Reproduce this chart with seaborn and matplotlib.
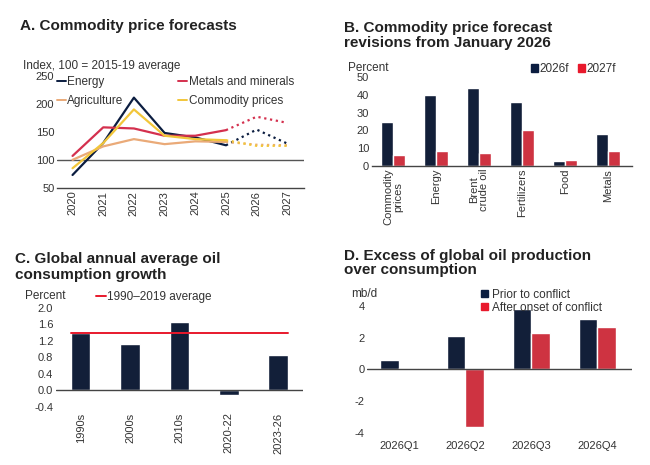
import pandas as pd
import matplotlib
matplotlib.use("Agg")
import matplotlib.pyplot as plt
from matplotlib.lines import Line2D
from matplotlib.patches import Patch
import seaborn as sns

# Panel A: commodity price indices (100 = 2015-19 average)
years = [2020, 2021, 2022, 2023, 2024, 2025, 2026, 2027]
energy = [73, 130, 211, 148, 140, 126, 154, 129]
metals = [107, 158, 156, 143, 143, 153, 177, 166]
agriculture = [100, 124, 137, 128, 133, 132, 127, 126]
commodity = [85, 130, 190, 143, 137, 135, 125, 125]

# Panel B: forecast revisions, percent
b_categories = ["Commodity\nprices", "Energy", "Brent\ncrude oil", "Fertilizers", "Food", "Metals"]
rev_2026 = [25, 40, 44, 36, 3, 18]
rev_2027 = [6, 8.5, 7.5, 20, 3.5, 8.5]

# Panel C: oil consumption growth, percent
c_periods = ["1990s", "2000s", "2010s", "2020-22", "2023-26"]
c_growth = [1.4, 1.12, 1.65, -0.12, 0.85]
c_average = 1.4

# Panel D: excess production, mb/d
d_quarters = ["2026Q1", "2026Q2", "2026Q3", "2026Q4"]
prior = [0.6, 2.1, 3.8, 3.2]
after = [0.1, -3.6, 2.3, 2.7]

NAVY = "#0b1d40"
RED = "#e8192c"
METAL = "#d4304e"
AGRI = "#eaaa78"
COMM = "#f2c63a"
TXT = "#333333"
TITLE = "#222222"

sns.set_style("white")
plt.rcParams["font.family"] = ["Liberation Sans", "DejaVu Sans"]
plt.rcParams["font.size"] = 8
plt.rcParams["xtick.color"] = TXT
plt.rcParams["ytick.color"] = TXT
plt.rcParams["axes.unicode_minus"] = False

fig = plt.figure(figsize=(6.5, 4.65), dpi=100)


def style_axis(ax):
    for side in ["top", "right", "left"]:
        ax.spines[side].set_visible(False)
    ax.spines["bottom"].set_color("#444444")
    ax.spines["bottom"].set_linewidth(1.0)
    ax.tick_params(axis="both", length=0, labelsize=8, pad=2)
    ax.set_xlabel("")
    ax.set_ylabel("")


# ---- A. Commodity price forecasts
axA = fig.add_axes([0.088, 0.596, 0.380, 0.241])
series = {"Energy": energy, "Metals and minerals": metals,
          "Agriculture": agriculture, "Commodity prices": commodity}
colors = {"Energy": NAVY, "Metals and minerals": METAL,
          "Agriculture": AGRI, "Commodity prices": COMM}
rows = []
for name, vals in series.items():
    for y, v in zip(years, vals):
        rows.append({"year": y, "value": v, "series": name})
dfA = pd.DataFrame(rows)
hist = dfA[dfA["year"] <= 2025]
fcst = dfA[dfA["year"] >= 2025]
axA.axhline(100, color="#555555", linewidth=1.0, zorder=1)
sns.lineplot(data=hist, x="year", y="value", hue="series", palette=colors,
             linewidth=1.6, legend=False, ax=axA)
sns.lineplot(data=fcst, x="year", y="value", hue="series", palette=colors,
             linewidth=1.6, linestyle=":", legend=False, ax=axA)
axA.set_xlim(2019.5, 2027.55)
axA.set_ylim(50, 250)
axA.set_yticks([50, 100, 150, 200, 250])
axA.set_xticks(years)
axA.set_xticklabels([str(y) for y in years], rotation=90)
style_axis(axA)
handles = [Line2D([], [], color=colors[n], linewidth=1.4) for n in
           ["Energy", "Agriculture", "Metals and minerals", "Commodity prices"]]
axA.legend(handles, ["Energy", "Agriculture", "Metals and minerals", "Commodity prices"],
           ncol=2, loc="upper left", bbox_to_anchor=(-0.045, 1.09), frameon=False,
           handlelength=0.8, handletextpad=0.1, columnspacing=4.6, labelspacing=0.55,
           fontsize=8.5, labelcolor=TXT)
fig.text(0.030, 0.935, "A. Commodity price forecasts", fontsize=11, fontweight="bold", color=TITLE)
fig.text(0.035, 0.852, "Index, 100 = 2015-19 average", fontsize=8.5, color=TXT)

# ---- B. Commodity price forecast revisions
axB = fig.add_axes([0.572, 0.643, 0.400, 0.191])
dfB = pd.DataFrame({"category": b_categories * 2,
                    "value": rev_2026 + rev_2027,
                    "series": ["2026f"] * 6 + ["2027f"] * 6})
sns.barplot(data=dfB, x="category", y="value", hue="series",
            palette=[NAVY, RED], width=0.56, legend=False, ax=axB)
axB.set_xlim(-0.5, 5.55)
axB.set_ylim(0, 50)
axB.set_yticks(range(0, 51, 10))
axB.set_xticks(range(len(b_categories)))
axB.set_xticklabels(b_categories, rotation=90, linespacing=1.0)
style_axis(axB)
axB.legend([Patch(color=NAVY), Patch(color=RED)], ["2026f", "2027f"],
           ncol=2, loc="upper right", bbox_to_anchor=(0.98, 1.28), frameon=False,
           handlelength=0.6, handleheight=0.6, handletextpad=0.1, columnspacing=0.8,
           fontsize=8.5, labelcolor=TXT)
fig.text(0.529, 0.931, "B. Commodity price forecast", fontsize=11, fontweight="bold", color=TITLE)
fig.text(0.529, 0.898, "revisions from January 2026", fontsize=11, fontweight="bold", color=TITLE)
fig.text(0.535, 0.848, "Percent", fontsize=8.5, color=TXT)

# ---- C. Global annual average oil consumption growth
axC = fig.add_axes([0.086, 0.125, 0.380, 0.213])
sns.barplot(x=c_periods, y=c_growth, color=NAVY, width=0.4, ax=axC)
axC.plot([-0.2, 4.2], [c_average, c_average], color=RED, linewidth=1.4)
axC.set_xlim(-0.5, 4.5)
axC.set_ylim(-0.4, 2.0)
axC.set_yticks([-0.4, 0.0, 0.4, 0.8, 1.2, 1.6, 2.0])
axC.set_yticklabels(["-0.4", "0.0", "0.4", "0.8", "1.2", "1.6", "2.0"])
style_axis(axC)
axC.spines["bottom"].set_visible(False)
axC.axhline(0, color="#444444", linewidth=1.0)
axC.set_xticks(range(len(c_periods)))
axC.set_xticklabels(c_periods, rotation=90)
axC.tick_params(axis="x", pad=4)
axC.legend([Line2D([], [], color=RED, linewidth=1.4)], ["1990\u20132019 average"],
           loc="upper left", bbox_to_anchor=(0.12, 1.28), frameon=False,
           handlelength=0.8, handletextpad=0.1, fontsize=8.5, labelcolor=TXT)
fig.text(0.023, 0.434, "C. Global annual average oil", fontsize=11, fontweight="bold", color=TITLE)
fig.text(0.023, 0.401, "consumption growth", fontsize=11, fontweight="bold", color=TITLE)
fig.text(0.038, 0.356, "Percent", fontsize=8.5, color=TXT)

# ---- D. Excess of global oil production over consumption
axD = fig.add_axes([0.565, 0.069, 0.407, 0.273])
dfD = pd.DataFrame({"quarter": d_quarters * 2,
                    "value": prior + after,
                    "series": ["Prior to conflict"] * 4 + ["After onset of conflict"] * 4})
sns.barplot(data=dfD, x="quarter", y="value", hue="series",
            palette=[NAVY, RED], width=0.56, legend=False, ax=axD)
axD.set_xlim(-0.48, 3.52)
axD.set_ylim(-4, 4)
axD.set_yticks([-4, -2, 0, 2, 4])
style_axis(axD)
axD.spines["bottom"].set_visible(False)
axD.axhline(0, color="#444444", linewidth=1.0)
axD.tick_params(axis="x", pad=6)
axD.legend([Patch(color=NAVY), Patch(color=RED)], ["Prior to conflict", "After onset of conflict"],
           loc="upper left", bbox_to_anchor=(0.39, 1.22), frameon=False,
           handlelength=0.6, handleheight=0.6, handletextpad=0.3, labelspacing=0.1,
           fontsize=8.5, labelcolor=TXT)
fig.text(0.530, 0.441, "D. Excess of global oil production", fontsize=11, fontweight="bold", color=TITLE)
fig.text(0.530, 0.410, "over consumption", fontsize=11, fontweight="bold", color=TITLE)
fig.text(0.540, 0.362, "mb/d", fontsize=8.5, color=TXT)

fig.savefig("out.png", dpi=100, facecolor="white")
